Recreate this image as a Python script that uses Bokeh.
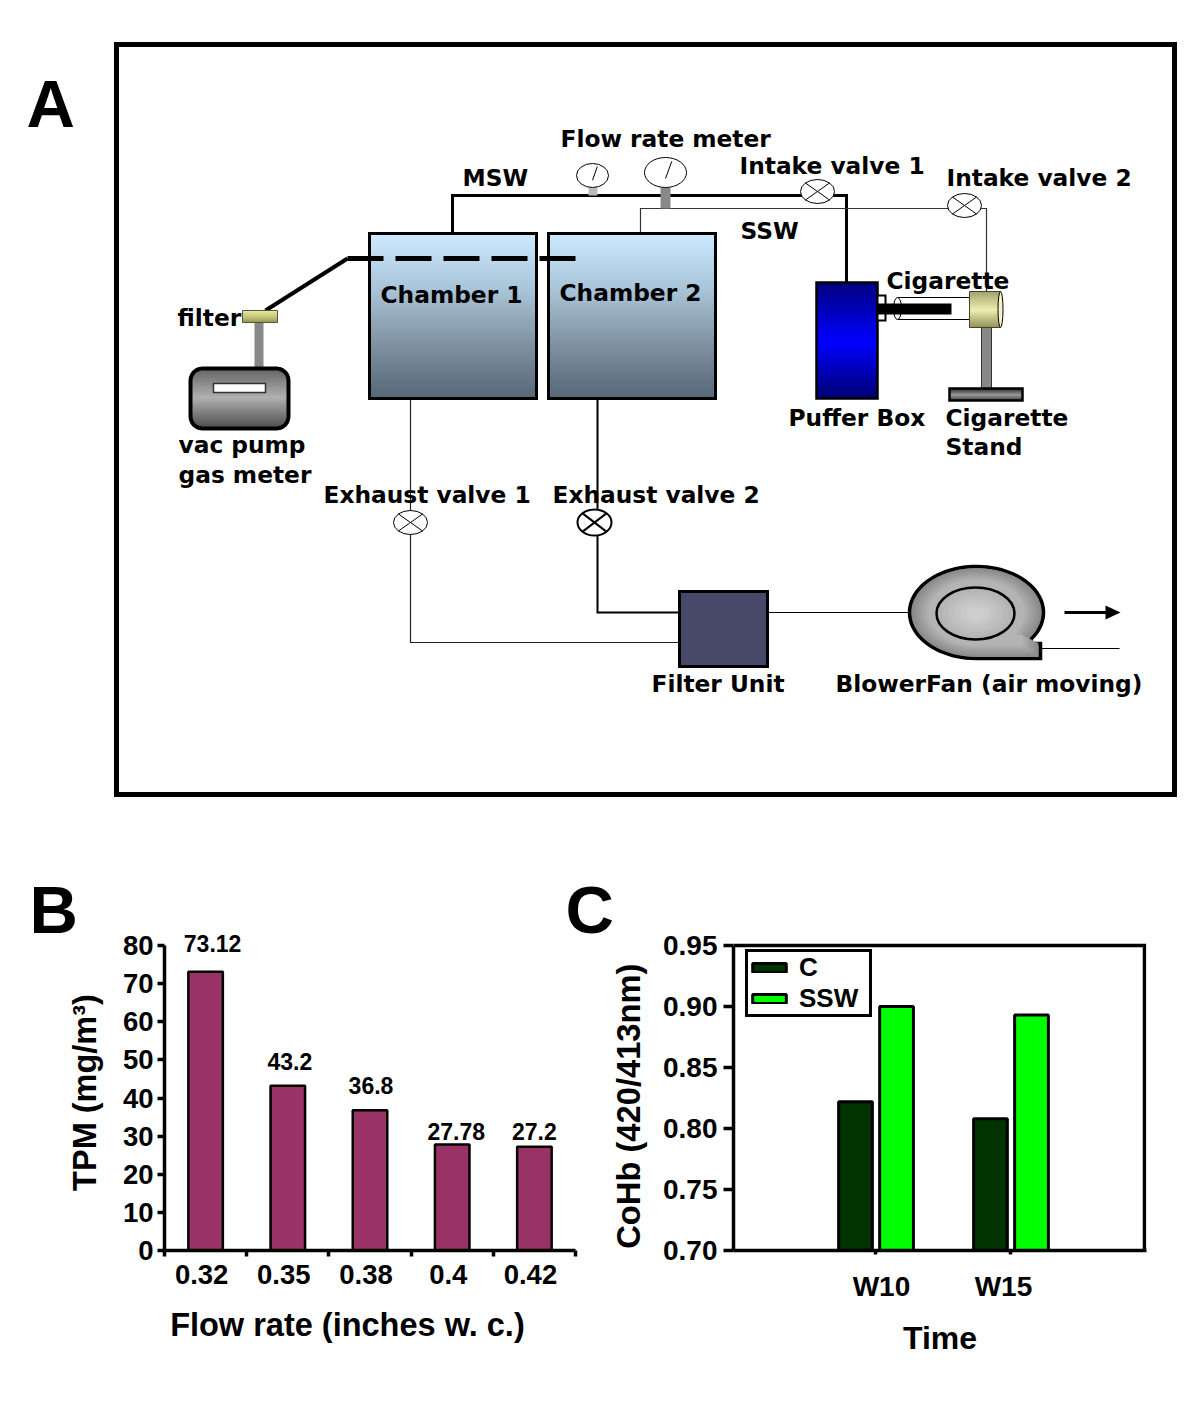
import math
from bokeh.plotting import figure
from bokeh.layouts import column, row
from bokeh.embed import file_html
from bokeh.resources import INLINE
from bokeh.core.properties import value
from bokeh.models import (Range1d, FixedTicker, NumeralTickFormatter, Legend, LegendItem)

# ---- data -------------------------------------------------------------
flow_labels = ["0.32", "0.35", "0.38", "0.4", "0.42"]
tpm_values = [73.12, 43.2, 36.8, 27.78, 27.2]
tpm_texts = ["73.12", "43.2", "36.8", "27.78", "27.2"]
tpm_ticks = [0, 10, 20, 30, 40, 50, 60, 70, 80]

week_labels = ["W10", "W15"]
cohb_control = [0.822, 0.808]
cohb_ssw = [0.900, 0.893]
cohb_ticks = [0.70, 0.75, 0.80, 0.85, 0.90, 0.95]

diagram_texts = [
    ("Flow rate meter", 560, 138), ("MSW", 462, 177), ("Intake valve 1", 739, 165),
    ("Intake valve 2", 946, 177), ("SSW", 740, 230), ("Chamber 1", 380, 294),
    ("Chamber 2", 559, 292), ("Cigarette", 886, 280), ("filter", 177, 317),
    ("vac pump", 178, 444), ("gas meter", 178, 474), ("Puffer Box", 788, 417),
    ("Cigarette", 945, 417), ("Stand", 945, 446), ("Exhaust valve 1", 323, 494),
    ("Exhaust valve 2", 552, 494), ("Filter Unit", 651, 683),
    ("BlowerFan (air moving)", 835, 683),
]

NB = "\u00a0"

# ---- helpers ----------------------------------------------------------
def hex2rgb(h):
    return tuple(int(h[i:i + 2], 16) for i in (1, 3, 5))

def mix(stops, t):
    n = len(stops) - 1
    i = min(int(t * n), n - 1)
    f = t * n - i
    a, b = hex2rgb(stops[i]), hex2rgb(stops[i + 1])
    return "#%02x%02x%02x" % tuple(round(a[k] + (b[k] - a[k]) * f) for k in range(3))

def vgrad(p, x0, x1, y0, y1, stops, step=2):
    ys = list(range(int(y0), int(y1), step))
    p.quad(left=[x0] * len(ys), right=[x1] * len(ys), top=ys,
           bottom=[min(y + step + 0.5, y1) for y in ys],
           fill_color=[mix(stops, (y - y0) / (y1 - y0)) for y in ys], line_color=None)

def box(p, x0, x1, y0, y1, lw=3, fill=None, color="black"):
    p.quad(left=[x0], right=[x1], top=[y0], bottom=[y1], fill_color=fill,
           fill_alpha=1 if fill else 0, line_color=color, line_width=lw, line_join="miter")

def seg(p, xs, ys, lw=1, color="black", dash="solid"):
    p.line(xs, ys, line_width=lw, line_color=color, line_dash=dash, line_join="miter")

def valve(p, cx, cy, rx, ry, lw=1, needle=False):
    p.ellipse([cx], [cy], width=[2 * rx], height=[2 * ry], fill_color="white",
              line_color="black", line_width=lw)
    if needle:
        seg(p, [cx + 0, cx + 0.3 * rx], [cy + 0.4 * ry, cy - 0.75 * ry], 1)
    else:
        d = 0.72
        seg(p, [cx - d * rx, cx + d * rx], [cy - d * ry, cy + d * ry], lw)
        seg(p, [cx - d * rx, cx + d * rx], [cy + d * ry, cy - d * ry], lw)

# ---- panel A (also carries the panel letters) --------------------------
A = figure(width=1184, height=950, x_range=Range1d(0, 1184), y_range=Range1d(950, 0),
           output_backend="svg", toolbar_location=None, min_border=0,
           background_fill_color="white", border_fill_color="white", outline_line_color=None)
A.xaxis.visible = False
A.yaxis.visible = False
A.grid.visible = False

box(A, 116, 1174, 44, 794, lw=5)

# pipes
seg(A, [452, 452, 846, 846], [233, 195, 195, 282], 3)
seg(A, [640, 640, 986, 986], [233, 208, 208, 295], 1.2, "#333333")
seg(A, [410, 410, 679], [398, 642, 642], 1.2, "#222222")
seg(A, [597, 597, 679], [398, 612, 612], 2)
seg(A, [767, 910], [612, 612], 1.2)
seg(A, [1040, 1119], [648, 648], 1.2)

# flow meters
A.quad(left=[588], right=[597], top=[187], bottom=[195], fill_color="#bbbbbb", line_color=None)
A.quad(left=[660], right=[670], top=[187], bottom=[208], fill_color="#888888", line_color=None)
valve(A, 592, 175, 16, 12, needle=True)
valve(A, 665, 172, 21, 15, needle=True)

# valves
valve(A, 817, 191, 17, 12)
valve(A, 964, 205, 17, 12)
valve(A, 410, 522, 17, 12)
valve(A, 594, 522, 17, 13, lw=2)

# chambers
cham = ["#cce9ff", "#a9c4d8", "#7f919f", "#566675"]
for x0, x1 in [(369, 536), (548, 715)]:
    vgrad(A, x0, x1, 233, 398, cham)
    box(A, x0, x1, 233, 398, lw=3)
seg(A, [265, 347], [310, 258], 4)
seg(A, [347, 577], [258, 258], 5, dash="36 12")

# pump + filter
A.quad(left=[254], right=[263], top=[322], bottom=[368], fill_color="#888888", line_color=None)
def rounded(x0, x1, y0, y1, r):
    xs, ys = [], []
    for cx, cy, a0 in [(x1 - r, y0 + r, -90), (x1 - r, y1 - r, 0), (x0 + r, y1 - r, 90), (x0 + r, y0 + r, 180)]:
        for k in range(7):
            a = math.radians(a0 + 15 * k)
            xs.append(cx + r * math.cos(a))
            ys.append(cy + r * math.sin(a))
    return xs, ys
for k in range(29):
    yy = 368 + k * 2
    d = max(0, 12 - yy + 368, yy + 2 - 428 + 12)
    inset = 12 - math.sqrt(max(0, 144 - d * d))
    A.quad(left=[190 + inset], right=[288 - inset], top=[yy], bottom=[yy + 2.5],
           fill_color=mix(["#666666", "#b0b0b0", "#555555"], k / 28), line_color=None)
rx, ry = rounded(190, 288, 368, 428, 12)
A.patch(rx, ry, fill_alpha=0, line_color="black", line_width=4)
box(A, 213, 265, 383, 392, lw=1.5, fill="white", color="#333333")
vgrad(A, 242, 277, 310, 322, ["#e6e69a", "#c6c67a", "#8f8f50"], step=1)
box(A, 242, 277, 310, 322, lw=1, color="#555533")

# puffer + cigarette
vgrad(A, 816, 877, 282, 398, ["#000080", "#0000ff", "#000070"])
box(A, 816, 877, 282, 398, lw=2.5)
box(A, 877, 885, 295, 320, lw=2, fill="white")
A.ellipse([897], [308], width=[8], height=[22], fill_color="white", line_color="black", line_width=1)
seg(A, [897, 975], [297, 297], 1)
seg(A, [897, 975], [319, 319], 1)
A.quad(left=[877], right=[951], top=[303], bottom=[314], fill_color="black", line_color=None)
A.quad(left=[981], right=[991], top=[326], bottom=[389], fill_color="#888888", line_color="#333333", line_width=1)
vgrad(A, 969, 1000, 291, 327, ["#a4a470", "#eeeeb0", "#8e8e58"], step=1)
box(A, 969, 1000, 291, 327, lw=1, color="#444422")
A.ellipse([1000], [309], width=[5], height=[36], fill_color="#f4f4c8", line_color="black", line_width=1)
vgrad(A, 949, 1022, 388, 400, ["#333333", "#999999", "#333333"], step=1)
box(A, 949, 1022, 388, 400, lw=2.5)

# filter unit
box(A, 679, 767, 591, 666, lw=3, fill="#484868")

# blower fan
def fan_outline(scale):
    cx, cy, ax, ay = 976, 612, 67, 46
    xs, ys = [], []
    for k in range(0, 76):
        a = math.radians(35 - k * 4.0)
        xs.append(cx + ax * math.cos(a))
        ys.append(cy + ay * math.sin(a))
    xs += [cx, 1040, 1040, 1030]
    ys += [cy + ay, cy + ay, 643, 643]
    return ([cx + (x - cx) * scale for x in xs], [cy + (y - cy) * scale for y in ys])
fx, fy = fan_outline(1)
A.patch(fx, fy, fill_color="#858585", line_color="black", line_width=3.5, line_join="miter")
for j in range(1, 9):
    gx, gy = fan_outline(1 - j * 0.035)
    A.patch(gx, gy, fill_color=mix(["#858585", "#b4b4b4"], j / 8), line_color=None)
A.ellipse([975], [613], width=[78], height=[52], fill_color="#b4b4b4", line_color="black", line_width=2.5)
for j in range(1, 6):
    A.ellipse([975], [613], width=[78 - j * 12], height=[52 - j * 8],
              fill_color=mix(["#b4b4b4", "#cfcfcf"], j / 5), line_color=None)

# exhaust arrow
seg(A, [1064, 1112], [612, 612], 3)
A.patch([1105, 1120, 1105], [605, 612, 619], fill_color="black", line_color=None)

# labels
A.text(x=[t[1] for t in diagram_texts], y=[t[2] for t in diagram_texts],
       text=[t[0] for t in diagram_texts], text_font=value("DejaVu Sans"),
       text_font_style="bold", text_font_size="23.3px", text_baseline="middle",
       text_color="black")
A.text(x=[26, 29, 565], y=[103, 909, 909], text=["A", "B", "C"], text_font=value("Liberation Sans"),
       text_font_style="bold", text_font_size="67px", text_baseline="middle", text_color="black")

# ---- panel B ----------------------------------------------------------
def style_axis(ax, tick_size, title_size, lw=3.5):
    ax.axis_line_width = lw
    ax.axis_line_color = "black"
    ax.major_tick_line_color = "black"
    ax.major_tick_line_width = lw
    ax.minor_tick_line_color = "black"
    ax.minor_tick_line_width = lw
    ax.major_label_text_font = "Liberation Sans"
    ax.major_label_text_font_style = "bold"
    ax.major_label_text_font_size = tick_size
    ax.major_label_text_color = "black"
    ax.axis_label_text_font = "Liberation Sans"
    ax.axis_label_text_font_style = "bold"
    ax.axis_label_text_font_size = title_size
    ax.axis_label_text_color = "black"

B = figure(width=600, height=472, x_range=Range1d(0, 5), y_range=Range1d(0, 85.25),
           output_backend="svg", toolbar_location=None,
           min_border_left=164, min_border_right=25, min_border_top=0, min_border_bottom=147,
           background_fill_alpha=0, border_fill_alpha=0, outline_line_color=None)
B.grid.visible = False
idx = [i + 0.5 for i in range(len(flow_labels))]
B.vbar(x=idx, top=tpm_values, bottom=0, width=0.42, fill_color="#993366", line_color="black", line_width=2.5)
style_axis(B.xaxis[0], "27.5px", "32.5px")
style_axis(B.yaxis[0], "27.5px", "32.5px")
flow_pos = [i + 0.452 for i in range(len(flow_labels))]
B.xaxis.ticker = FixedTicker(ticks=flow_pos, minor_ticks=[0, 1, 2, 3, 4, 5])
B.xaxis.major_label_overrides = dict(zip(flow_pos, flow_labels))
B.xaxis.major_tick_out = 0
B.xaxis.major_tick_in = 0
B.xaxis.minor_tick_out = 6
B.xaxis.minor_tick_in = 0
B.xaxis.major_label_standoff = 8
B.xaxis.axis_label = "Flow rate (inches w. c.)" + NB * 5
B.xaxis.axis_label_standoff = 20
B.yaxis.ticker = FixedTicker(ticks=tpm_ticks)
B.yaxis.bounds = (0, 80)
B.yaxis.minor_tick_out = 0
B.yaxis.minor_tick_in = 0
B.yaxis.major_tick_out = 7
B.yaxis.major_tick_in = 0
B.yaxis.major_label_standoff = 4
B.yaxis.axis_label = "TPM (mg/m³)" + NB
B.yaxis.axis_label_standoff = 17
B.text(x=idx, y=tpm_values, text=tpm_texts, x_offset=[7, 2, 1, 4, 0], y_offset=[-28, -24, -25, -13, -15],
       text_align="center", text_baseline="middle", text_font=value("Liberation Sans"),
       text_font_style="bold", text_font_size="23px", text_color="black")

# ---- panel C ----------------------------------------------------------
x_end = 2.993
y_end = cohb_ticks[-1]
C = figure(width=584, height=472, x_range=Range1d(-0.052, 3.008), y_range=Range1d(0.70, 0.9664),
           output_backend="svg", toolbar_location=None,
           min_border_left=133, min_border_right=38, min_border_top=0, min_border_bottom=147,
           background_fill_alpha=0, border_fill_alpha=0, outline_line_color=None)
C.grid.visible = False
C.line([-0.052, x_end, x_end], [y_end, y_end, 0.70], line_color="black", line_width=3.5, line_join="miter")
weeks = [1, 2]
bar_c = C.vbar(x=[w - 0.148 for w in weeks], top=cohb_control, bottom=0.70, width=0.25,
               fill_color="#003300", line_color="black", line_width=3)
bar_s = C.vbar(x=[w + 0.156 for w in weeks], top=cohb_ssw, bottom=0.70, width=0.25,
               fill_color="#00ff00", line_color="black", line_width=3)
style_axis(C.xaxis[0], "28px", "32px")
style_axis(C.yaxis[0], "28px", "32.7px")
label_pos = [1.044, 1.948]
C.xaxis.ticker = FixedTicker(ticks=label_pos, minor_ticks=weeks)
C.xaxis.major_label_overrides = dict(zip(label_pos, week_labels))
C.xaxis.major_tick_out = 0
C.xaxis.major_tick_in = 0
C.xaxis.minor_tick_out = 4
C.xaxis.minor_tick_in = 0
C.xaxis.major_label_standoff = 16
C.xaxis.axis_label = "Time"
C.xaxis.axis_label_standoff = 15
C.yaxis.ticker = FixedTicker(ticks=cohb_ticks)
C.yaxis.bounds = (0.70, y_end)
C.yaxis.formatter = NumeralTickFormatter(format="0.00")
C.yaxis.minor_tick_out = 0
C.yaxis.minor_tick_in = 0
C.yaxis.major_tick_out = 10
C.yaxis.major_tick_in = 0
C.yaxis.major_label_standoff = 6
C.yaxis.axis_label = "CoHb (420/413nm)" + NB * 4
C.yaxis.axis_label_standoff = 13
legend = Legend(items=[LegendItem(label="C", renderers=[bar_c]), LegendItem(label="SSW", renderers=[bar_s])],
                location=(12, 233), orientation="vertical", glyph_width=42, glyph_height=11,
                label_standoff=9, padding=0, spacing=0, margin=0,
                border_line_color="black", border_line_width=3, border_line_alpha=1,
                background_fill_alpha=1,
                label_text_font="Liberation Sans", label_text_font_style="bold",
                label_text_font_size="26px",
                label_text_color="black", label_height=26, label_width=70)
C.add_layout(legend)

charts = row(B, C, spacing=0, margin=(-25, 0, 0, 0))
page = column(A, charts, spacing=0)
open("out.html", "w").write(file_html(page, INLINE))
